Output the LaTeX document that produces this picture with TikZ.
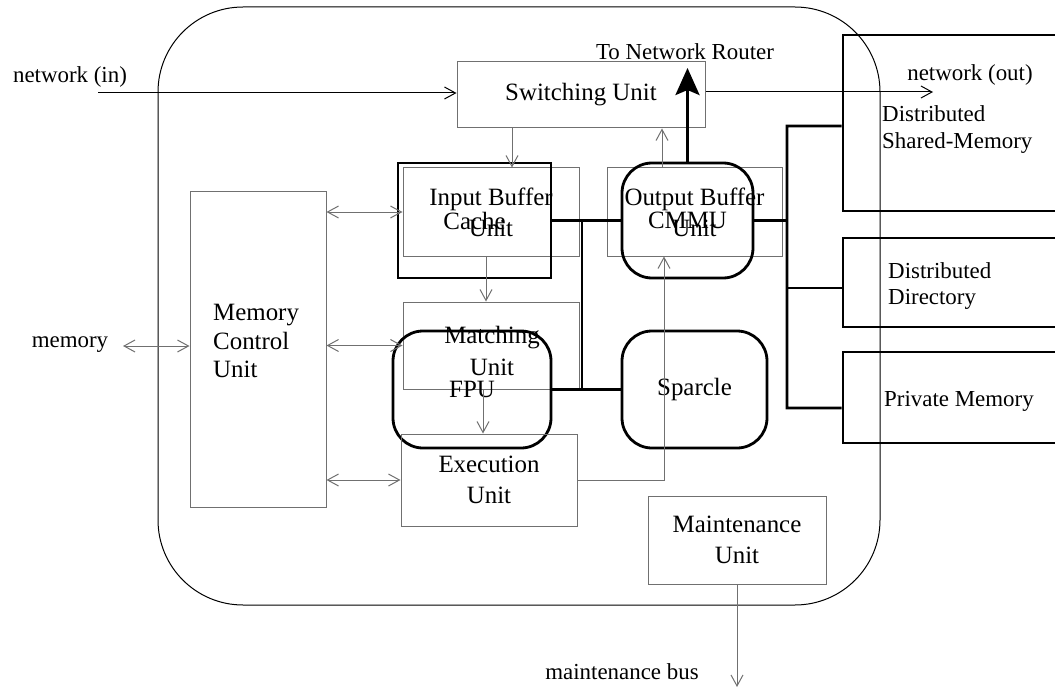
\documentclass[tikz,border=0pt]{standalone}
\usepackage{fontspec}
\setmainfont{Liberation Serif}
\usetikzlibrary{arrows.meta, positioning, calc}
\definecolor{UnitGray}{RGB}{112, 112, 112}
\definecolor{BusBlack}{RGB}{0, 0, 0}

\tikzset{
  unitbox/.style={draw=UnitGray, line width=1bp, inner sep=0pt, align=center,
    font=\fontsize{25}{31}\selectfont},
  chipbox/.style={draw=BusBlack, line width=2.8bp, inner sep=0pt, align=center,
    rounded corners=30bp, font=\fontsize{25}{31}\selectfont},
  membox/.style={draw=BusBlack, line width=2.8bp, inner sep=0pt},
  tag/.style={inner sep=0pt, align=left, font=\fontsize{23}{27}\selectfont},
  flow/.style={draw=UnitGray, line width=1bp, -{Straight Barb[length=11bp,width=12bp]}},
  biflow/.style={draw=UnitGray, line width=1bp, {Straight Barb[length=11bp,width=12bp]}-{Straight Barb[length=11bp,width=12bp]}},
  wire/.style={draw=black, line width=1bp, -{Straight Barb[length=11bp,width=12bp]}},
  bus/.style={draw=BusBlack, line width=2.8bp},
  uplink/.style={draw=BusBlack, line width=3bp, -{Stealth[length=27bp,width=24bp,inset=5bp]}}
}

\begin{document}
\begin{tikzpicture}[x=1bp,y=-1bp]
  \useasboundingbox (0,0) rectangle (1055,689);
  \clip (0,0) rectangle (1055,689);
  % node outline
  \draw[black, line width=1bp, rounded corners=85bp] (158,7) rectangle (880,605);

  % units
  \node[unitbox, minimum width=248bp, minimum height=66bp] (switch) at (581,95) {Switching Unit};
  \node[unitbox, minimum width=176bp, minimum height=88bp] (ibu) at (491,212) {Input Buffer\\Unit};
  \node[membox, minimum width=153bp, minimum height=115bp, align=center,
    font=\fontsize{25}{31}\selectfont] (cache) at (474.5,220.5) {Cache};
  \node[unitbox, minimum width=175bp, minimum height=88bp] (obu) at (694.5,212) {Output Buffer\\Unit};
  \node[chipbox, minimum width=131bp, minimum height=115bp] (cmmu) at (687.5,220.5) {CMMU};
  \node[unitbox, minimum width=136bp, minimum height=315bp] (mcu) at (258,349.5) {};
  \node[anchor=west, align=left, inner sep=0pt, font=\fontsize{25}{29}\selectfont]
    (mcutext) at (213,341) {Memory\\Control\\Unit};
  \node[unitbox, minimum width=176bp, minimum height=87bp] (match) at (491,345.5) {};
  \node[align=center, inner sep=0pt, font=\fontsize{25}{32}\selectfont]
    (matchtext) at (492,351) {Matching\\Unit};
  \node[chipbox, minimum width=158bp, minimum height=117bp] (fpu) at (472,389.5) {FPU};
  \node[unitbox, minimum width=176bp, minimum height=92bp] (exec) at (489,480) {Execution\\Unit};
  \node[chipbox, minimum width=145bp, minimum height=117bp] (sparcle) at (694.5,389.5) {Sparcle};
  \node[unitbox, minimum width=178bp, minimum height=88bp] (maint) at (737,540) {Maintenance\\Unit};

  % memories on the right
  \node[membox, minimum width=222bp, minimum height=176bp] (dsm) at (954,123) {};
  \node[membox, minimum width=222bp, minimum height=89bp] (ddir) at (954,282.5) {};
  \node[membox, minimum width=222bp, minimum height=91bp] (pmem) at (954,397.5) {};
  \node[tag, anchor=west] (dsmtext) at (882,129.5) {Distributed\\Shared-Memory};
  \node[tag, anchor=west] (ddirtext) at (888,286) {Distributed\\Directory};
  \node[tag, anchor=west] (pmemtext) at (884,401) {Private Memory};

  % outside labels
  \node[tag] (netin) at (70,77) {network (in)};
  \node[tag] (netout) at (970,75) {network (out)};
  \node[tag] (router) at (685,52) {To Network Router};
  \node[tag] (memlabel) at (70,345) {memory};
  \node[tag] (buslabel) at (622,672) {maintenance bus};

  \coordinate (inlet) at (98,93);
  \coordinate (outlet) at (933,92);
  \coordinate (memport) at (123,346);
  \coordinate (busend) at (736,687);
  \coordinate (routerport) at (687.5,68);
  \coordinate (lbus) at (582,220.5);
  \coordinate (rbus) at (787,126);

  % network and memory ports
  \draw[wire] (inlet) -- (inlet -| switch.west);
  \draw[wire] (outlet -| switch.east) -- (outlet);
  \draw[biflow] (memport) -- (memport -| mcu.west);
  \draw[flow] (maint.south) -- (maint.south |- busend);
  \draw[uplink] (cmmu.north) -- (cmmu.north |- routerport);

  % data path
  \draw[flow] ([xshift=21bp]ibu.north |- switch.south) -- ([xshift=21bp]ibu.north);
  \draw[flow] ([xshift=-32.5bp]obu.north) -- ([xshift=-32.5bp]obu.north |- switch.south);
  \draw[flow] ([xshift=-5bp]ibu.south) -- ([xshift=-5bp]ibu.south |- match.north);
  \draw[flow] ([xshift=-8bp]match.south) -- ([xshift=-8bp]match.south |- exec.north);
  \draw[flow] (exec.east) -| ([xshift=-30.5bp]obu.south);
  \draw[biflow] (mcu.east |- ibu.west) -- (ibu.west);
  \draw[biflow] (mcu.east |- match.west) -- (match.west);
  \draw[biflow] (mcu.east |- exec.west) -- (exec.west);

  % processor buses
  \draw[bus] (cache.east) -- (cmmu.west);
  \draw[bus] (lbus) -- (lbus |- sparcle.west);
  \draw[bus] (fpu.east) -- (sparcle.west);
  \draw[bus] (cmmu.east) -- (cmmu.east -| rbus);
  \draw[bus] ([yshift=-3bp]dsm.west) -- (rbus) |- ([yshift=-10.5bp]pmem.west);
  \draw[bus] ([yshift=-5.5bp]ddir.west) -- +(-56,0);
\end{tikzpicture}
\end{document}
